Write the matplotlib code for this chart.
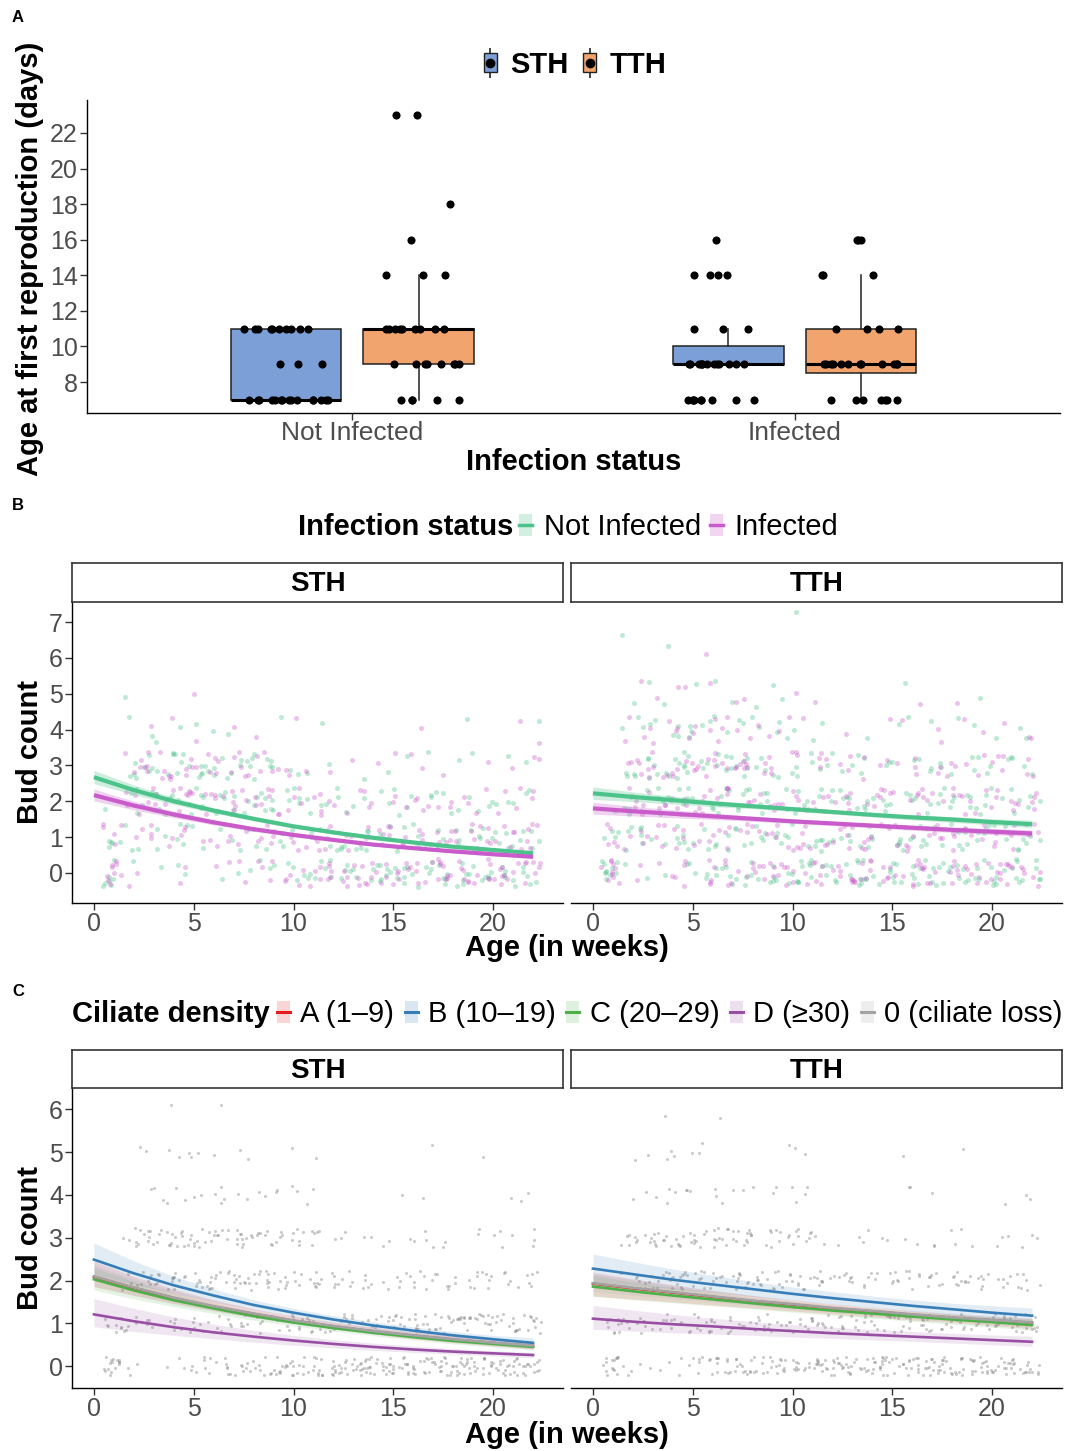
import numpy as np
import matplotlib
matplotlib.use("Agg")
import matplotlib.pyplot as plt
from matplotlib.patches import Patch
from matplotlib.lines import Line2D

plt.rcParams['font.family'] = ['Liberation Sans', 'DejaVu Sans']

# ---------------- panel A data: age at first reproduction (days) ----------------
status_labels = ['Not Infected', 'Infected']
strains = ['STH', 'TTH']
strain_colors = ['#7B9FD6', '#F2A46E']

# raw points per group
ni_sth = [7, 7, 7, 7, 7, 7, 7, 7, 7, 7, 7, 7, 7, 7, 7, 9, 9, 9,
          11, 11, 11, 11, 11, 11, 11, 11, 11, 11]
ni_tth = [7, 7, 7, 7, 7, 9, 9, 9, 9, 9, 9, 9, 9, 11, 11, 11, 11, 11, 11, 11, 11, 11,
          14, 14, 14, 16, 18, 23, 23]
in_sth = [7, 7, 7, 7, 7, 7, 7, 7, 7, 9, 9, 9, 9, 9, 9, 9, 9, 9, 9, 9, 9, 9,
          11, 11, 11, 14, 14, 14, 14, 16]
in_tth = [7, 7, 7, 7, 7, 7, 7, 9, 9, 9, 9, 9, 9, 9, 9, 9, 9, 9, 9,
          11, 11, 11, 11, 14, 14, 14, 16, 16, 16]

# box statistics in order NI-STH, NI-TTH, I-STH, I-TTH
box_q1 = [7, 9, 9, 8.5]
box_med = [7, 11, 9, 9]
box_q3 = [11, 11, 10, 11]
box_lo = [7, 7, 9, 7]
box_hi = [11, 14, 11, 14]

# ---------------- panel B data: bud count by infection status ----------------
fit_weeks = [0, 2, 4, 6, 8, 10, 12, 14, 16, 18, 20, 22]

b_sth_ni = [2.67, 2.31, 2.00, 1.74, 1.51, 1.30, 1.13, 0.98, 0.85, 0.73, 0.64, 0.55]
b_sth_ni_hi = [2.86, 2.45, 2.10, 1.81, 1.57, 1.35, 1.18, 1.03, 0.90, 0.78, 0.69, 0.61]
b_sth_ni_lo = [2.49, 2.18, 1.91, 1.67, 1.45, 1.25, 1.08, 0.93, 0.80, 0.68, 0.59, 0.50]
b_sth_in = [2.17, 1.88, 1.63, 1.41, 1.22, 1.06, 0.92, 0.79, 0.69, 0.60, 0.52, 0.45]
b_sth_in_hi = [2.34, 2.00, 1.72, 1.48, 1.28, 1.11, 0.96, 0.84, 0.73, 0.64, 0.57, 0.50]
b_sth_in_lo = [2.01, 1.76, 1.54, 1.34, 1.16, 1.01, 0.88, 0.75, 0.65, 0.56, 0.48, 0.41]
b_tth_ni = [2.22, 2.12, 2.03, 1.94, 1.86, 1.78, 1.70, 1.62, 1.55, 1.49, 1.42, 1.36]
b_tth_ni_hi = [2.40, 2.26, 2.14, 2.03, 1.93, 1.84, 1.76, 1.69, 1.62, 1.57, 1.51, 1.47]
b_tth_ni_lo = [2.05, 1.99, 1.92, 1.85, 1.79, 1.72, 1.64, 1.56, 1.48, 1.41, 1.34, 1.26]
b_tth_in = [1.80, 1.72, 1.65, 1.58, 1.51, 1.44, 1.38, 1.32, 1.26, 1.20, 1.15, 1.10]
b_tth_in_hi = [1.97, 1.86, 1.76, 1.67, 1.58, 1.50, 1.44, 1.38, 1.33, 1.28, 1.24, 1.20]
b_tth_in_lo = [1.64, 1.59, 1.54, 1.49, 1.44, 1.38, 1.32, 1.26, 1.19, 1.13, 1.07, 1.01]

# observation counts: rows = bud count 0..n, columns = weekly bins starting at week 0.4
bin_start = 0.4
pts_sth_ni = [
    [7, 1, 1, 1, 1, 1, 1, 2, 2, 3, 4, 5, 5, 6, 5, 6, 5, 5, 6, 5, 6, 5],
    [5, 3, 2, 3, 3, 2, 3, 3, 3, 3, 3, 4, 4, 4, 4, 4, 5, 4, 4, 5, 4, 4],
    [1, 3, 5, 5, 5, 5, 5, 5, 5, 5, 3, 3, 2, 2, 3, 2, 3, 3, 2, 3, 2, 2],
    [0, 4, 5, 6, 5, 5, 5, 5, 4, 2, 1, 1, 0, 1, 1, 1, 1, 1, 1, 0, 1, 1],
    [0, 1, 2, 1, 1, 1, 1, 0, 1, 0, 0, 1, 0, 0, 0, 0, 0, 0, 1, 0, 0, 1],
    [0, 1, 0, 0, 0, 0, 0, 0, 0, 0, 0, 0, 0, 0, 0, 0, 0, 0, 0, 0, 0, 0],
]
pts_sth_in = [
    [9, 2, 0, 1, 1, 1, 2, 2, 3, 4, 5, 5, 7, 6, 7, 6, 6, 7, 6, 7, 6, 7],
    [5, 2, 3, 3, 2, 3, 3, 3, 3, 3, 4, 3, 4, 4, 4, 5, 4, 5, 5, 4, 5, 5],
    [0, 4, 4, 5, 5, 5, 5, 5, 5, 4, 4, 2, 2, 3, 2, 3, 3, 2, 3, 2, 3, 2],
    [0, 4, 5, 5, 5, 5, 4, 4, 3, 2, 1, 1, 1, 1, 1, 1, 1, 1, 0, 1, 1, 2],
    [0, 0, 1, 1, 1, 0, 1, 1, 0, 1, 0, 0, 0, 0, 0, 0, 1, 0, 0, 0, 1, 1],
    [0, 0, 0, 0, 1, 0, 0, 0, 0, 0, 0, 0, 0, 0, 0, 0, 0, 0, 0, 0, 0, 0],
]
pts_tth_ni = [
    [10, 1, 1, 1, 3, 4, 5, 5, 5, 6, 6, 6, 6, 6, 6, 6, 6, 6, 6, 6, 6, 5],
    [4, 4, 4, 4, 4, 4, 4, 4, 4, 4, 4, 4, 4, 4, 5, 4, 5, 4, 5, 4, 4, 4],
    [1, 5, 5, 4, 5, 4, 5, 4, 5, 4, 4, 4, 4, 4, 4, 4, 4, 4, 4, 4, 4, 3],
    [0, 4, 5, 5, 5, 5, 5, 5, 4, 3, 3, 2, 3, 2, 3, 2, 3, 2, 3, 2, 3, 2],
    [0, 2, 3, 3, 3, 3, 2, 3, 2, 2, 1, 1, 0, 1, 1, 1, 1, 1, 1, 1, 1, 1],
    [0, 1, 1, 1, 1, 1, 1, 1, 1, 1, 0, 0, 0, 0, 0, 1, 0, 0, 1, 0, 0, 0],
    [0, 0, 0, 1, 0, 0, 0, 0, 0, 0, 0, 0, 0, 0, 0, 0, 0, 0, 0, 0, 0, 0],
    [0, 1, 0, 0, 0, 0, 0, 0, 0, 1, 0, 0, 0, 0, 0, 0, 0, 0, 0, 0, 0, 0],
]
pts_tth_in = [
    [10, 2, 1, 2, 3, 5, 5, 5, 6, 6, 6, 6, 6, 6, 6, 6, 6, 6, 6, 6, 6, 6],
    [5, 3, 4, 4, 4, 4, 4, 4, 4, 4, 4, 4, 4, 5, 4, 5, 4, 5, 4, 5, 4, 4],
    [0, 4, 4, 5, 4, 5, 4, 5, 4, 5, 4, 4, 4, 4, 4, 4, 4, 4, 4, 4, 4, 4],
    [0, 4, 5, 5, 5, 5, 5, 5, 5, 3, 2, 3, 2, 3, 2, 3, 2, 3, 2, 3, 2, 3],
    [0, 2, 3, 3, 3, 3, 3, 2, 2, 1, 1, 0, 1, 0, 1, 1, 1, 1, 1, 1, 1, 2],
    [0, 1, 1, 1, 1, 1, 1, 1, 0, 1, 1, 0, 0, 0, 0, 1, 0, 1, 0, 0, 0, 0],
    [0, 0, 0, 0, 0, 1, 0, 0, 0, 0, 0, 0, 0, 0, 0, 0, 0, 0, 0, 0, 0, 0],
]

# ---------------- panel C data: bud count by ciliate density ----------------
density_labels = ['A (1\u20139)', 'B (10\u201319)', 'C (20\u201329)', 'D (\u226530)', '0 (ciliate loss)']
density_colors = ['#E41A1C', '#377EB8', '#4DAF4A', '#984EA3', '#A3A3A3']

c_sth_fit = {
    'A': [2.09, 1.83, 1.59, 1.39, 1.22, 1.06, 0.93, 0.81, 0.71, 0.62, 0.54, 0.47],
    'B': [2.49, 2.17, 1.89, 1.65, 1.43, 1.25, 1.09, 0.95, 0.83, 0.72, 0.63, 0.545],
    'C': [2.03, 1.77, 1.54, 1.35, 1.17, 1.02, 0.89, 0.78, 0.68, 0.59, 0.52, 0.45],
    'D': [1.21, 1.05, 0.91, 0.79, 0.69, 0.60, 0.52, 0.45, 0.39, 0.34, 0.30, 0.26],
    '0': [2.10, 1.84, 1.60, 1.40, 1.23, 1.07, 0.94, 0.82, 0.72, 0.63, 0.55, 0.48],
}
c_sth_hi = {
    'A': [2.45, 2.10, 1.80, 1.55, 1.34, 1.17, 1.03, 0.91, 0.80, 0.71, 0.63, 0.56],
    'B': [2.88, 2.46, 2.10, 1.80, 1.55, 1.35, 1.18, 1.04, 0.92, 0.81, 0.72, 0.66],
    'C': [2.30, 1.98, 1.70, 1.47, 1.27, 1.10, 0.96, 0.85, 0.75, 0.66, 0.59, 0.53],
    'D': [1.58, 1.35, 1.15, 0.98, 0.84, 0.72, 0.62, 0.54, 0.47, 0.41, 0.36, 0.32],
    '0': [2.36, 2.04, 1.76, 1.52, 1.32, 1.15, 1.01, 0.89, 0.79, 0.70, 0.62, 0.56],
}
c_sth_lo = {
    'A': [1.86, 1.66, 1.47, 1.30, 1.14, 1.00, 0.87, 0.75, 0.64, 0.55, 0.47, 0.40],
    'B': [2.15, 1.91, 1.70, 1.50, 1.32, 1.15, 1.00, 0.86, 0.74, 0.63, 0.54, 0.45],
    'C': [1.78, 1.57, 1.39, 1.23, 1.07, 0.94, 0.82, 0.71, 0.61, 0.52, 0.45, 0.38],
    'D': [0.92, 0.81, 0.72, 0.64, 0.56, 0.49, 0.43, 0.37, 0.32, 0.28, 0.24, 0.20],
    '0': [1.86, 1.65, 1.45, 1.28, 1.13, 0.99, 0.87, 0.75, 0.65, 0.56, 0.48, 0.41],
}
c_tth_fit = {
    'A': [1.93, 1.82, 1.72, 1.62, 1.52, 1.44, 1.35, 1.28, 1.20, 1.13, 1.07, 1.01],
    'B': [2.28, 2.15, 2.02, 1.91, 1.80, 1.69, 1.59, 1.50, 1.41, 1.33, 1.25, 1.18],
    'C': [1.86, 1.75, 1.65, 1.56, 1.47, 1.38, 1.30, 1.23, 1.16, 1.09, 1.03, 0.96],
    'D': [1.11, 1.04, 0.98, 0.93, 0.87, 0.82, 0.77, 0.73, 0.69, 0.65, 0.61, 0.57],
    '0': [1.94, 1.83, 1.73, 1.63, 1.53, 1.45, 1.36, 1.29, 1.21, 1.14, 1.08, 1.02],
}
c_tth_hi = {
    'A': [2.20, 2.04, 1.90, 1.77, 1.65, 1.54, 1.45, 1.37, 1.29, 1.22, 1.16, 1.11],
    'B': [2.62, 2.44, 2.27, 2.12, 1.98, 1.85, 1.74, 1.64, 1.55, 1.47, 1.41, 1.36],
    'C': [2.12, 1.97, 1.84, 1.72, 1.61, 1.51, 1.42, 1.34, 1.27, 1.21, 1.15, 1.10],
    'D': [1.42, 1.31, 1.21, 1.12, 1.04, 0.97, 0.91, 0.86, 0.81, 0.77, 0.73, 0.70],
    '0': [2.16, 2.02, 1.89, 1.77, 1.66, 1.56, 1.46, 1.38, 1.31, 1.24, 1.18, 1.13],
}
c_tth_lo = {
    'A': [1.64, 1.57, 1.50, 1.43, 1.36, 1.29, 1.22, 1.15, 1.08, 1.02, 0.95, 0.88],
    'B': [1.98, 1.89, 1.80, 1.72, 1.63, 1.54, 1.45, 1.37, 1.28, 1.20, 1.11, 1.03],
    'C': [1.63, 1.55, 1.48, 1.41, 1.34, 1.26, 1.19, 1.12, 1.05, 0.98, 0.91, 0.84],
    'D': [0.86, 0.82, 0.78, 0.75, 0.72, 0.68, 0.65, 0.61, 0.58, 0.54, 0.50, 0.46],
    '0': [1.74, 1.66, 1.58, 1.50, 1.42, 1.34, 1.26, 1.19, 1.12, 1.05, 0.98, 0.92],
}

pts_c_sth = [
    [16, 3, 0, 2, 4, 6, 8, 9, 10, 11, 12, 13, 13, 14, 14, 14, 14, 14, 14, 14, 14, 13],
    [8, 5, 4, 5, 5, 5, 5, 6, 6, 6, 7, 7, 7, 8, 8, 9, 10, 10, 10, 10, 10, 10],
    [0, 7, 9, 9, 9, 9, 9, 9, 9, 8, 8, 5, 4, 5, 5, 5, 5, 5, 5, 5, 5, 5],
    [0, 7, 9, 9, 9, 9, 8, 8, 7, 6, 6, 2, 1, 2, 2, 2, 3, 2, 2, 2, 2, 3],
    [0, 0, 2, 3, 3, 3, 2, 2, 3, 2, 2, 0, 0, 0, 0, 1, 1, 0, 0, 0, 1, 2],
    [0, 1, 1, 2, 3, 1, 1, 1, 0, 1, 1, 0, 0, 0, 0, 0, 1, 0, 0, 1, 0, 0],
    [0, 0, 0, 1, 0, 1, 0, 0, 0, 0, 0, 0, 0, 0, 0, 0, 0, 0, 0, 0, 0, 0],
]
pts_c_tth = [
    [15, 4, 2, 2, 6, 9, 10, 10, 11, 12, 12, 13, 13, 13, 13, 13, 13, 13, 13, 13, 13, 12],
    [8, 6, 6, 7, 7, 7, 7, 7, 7, 8, 8, 8, 8, 8, 8, 8, 8, 8, 8, 8, 8, 8],
    [0, 7, 8, 9, 9, 9, 9, 9, 9, 8, 7, 6, 6, 6, 6, 6, 6, 6, 6, 6, 6, 5],
    [0, 7, 8, 8, 8, 8, 8, 8, 7, 6, 5, 2, 1, 2, 2, 2, 2, 2, 2, 1, 2, 3],
    [0, 1, 2, 3, 3, 2, 2, 2, 2, 2, 2, 0, 0, 0, 0, 2, 1, 0, 0, 0, 1, 2],
    [0, 1, 1, 3, 2, 1, 0, 0, 0, 2, 1, 0, 0, 0, 0, 1, 0, 0, 1, 0, 0, 0],
    [0, 0, 0, 1, 0, 1, 0, 0, 0, 0, 0, 0, 0, 0, 0, 0, 0, 0, 0, 0, 0, 0],
]

GREEN = '#4CC38A'
MAGENTA = '#C95BCB'
TICK_C = '#4D4D4D'

W, H = 1067, 1451
fig = plt.figure(figsize=(W / 100, H / 100), dpi=100)


def px_axes(left, top, right, bottom):
    return fig.add_axes([left / W, 1 - bottom / H, (right - left) / W, (bottom - top) / H])


def hash01(k, a):
    # deterministic scatter offset in [0, 1), used only for jittering
    return (np.sin(k * a) * 43758.5453) % 1.0


def spread(counts, height, k0):
    # jitter each observation inside its week / bud-count cell
    xs, ys = [], []
    k = k0
    for level, row in enumerate(counts):
        for col, n in enumerate(row):
            for _ in range(n):
                k += 1
                xs.append(bin_start + col + hash01(k, 12.9898))
                ys.append(level + (2 * hash01(k, 78.233) - 1) * height)
    return xs, ys


def style_axis(ax, left_axis=True):
    for s in ['top', 'right']:
        ax.spines[s].set_visible(False)
    ax.spines['left'].set_visible(left_axis)
    for s in ['left', 'bottom']:
        ax.spines[s].set_linewidth(1.0)
        ax.spines[s].set_color('black')
    ax.tick_params(length=5, width=1, color='#333333', labelcolor=TICK_C, labelsize=18, pad=1.5)
    if not left_axis:
        ax.tick_params(axis='y', left=False, labelleft=False)


def strip(left, top, right, bottom, label):
    sa = px_axes(left, top, right, bottom)
    sa.set_xticks([])
    sa.set_yticks([])
    for s in sa.spines.values():
        s.set_linewidth(1.2)
        s.set_color('#333333')
    sa.text(0.5, 0.45, label, ha='center', va='center', fontsize=20, fontweight='bold',
            transform=sa.transAxes)


# ================= Panel A =================
axA = px_axes(87, 100, 1060, 413)
style_axis(axA)
groups = [ni_sth, ni_tth, in_sth, in_tth]
positions = [0.85, 1.15, 1.85, 2.15]
stats = []
for i in range(4):
    stats.append(dict(q1=box_q1[i], med=box_med[i], q3=box_q3[i],
                      whislo=box_lo[i], whishi=box_hi[i], fliers=[]))
bp = axA.bxp(stats, positions=positions, widths=0.25, patch_artist=True,
             showfliers=False, showcaps=False,
             boxprops=dict(edgecolor='#222222', linewidth=1.1),
             whiskerprops=dict(color='#222222', linewidth=1.1),
             medianprops=dict(color='black', linewidth=2.2))
for i, box in enumerate(bp['boxes']):
    box.set_facecolor(strain_colors[i % 2])
k = 0
for pos, vals in zip(positions, groups):
    xs = []
    for v in vals:
        k += 1
        xs.append(pos + (hash01(k, 12.9898) - 0.5) * 0.19)
    axA.scatter(xs, vals, s=34, color='black', zorder=5, linewidths=0)
axA.set_xlim(0.4, 2.6)
axA.set_ylim(6.26, 23.85)
axA.set_yticks([8, 10, 12, 14, 16, 18, 20, 22])
axA.set_xticks([1, 2])
axA.set_xticklabels(status_labels)
axA.tick_params(axis='x', labelsize=19, pad=1)

fig.text(30 / W, 1 - 259 / H, 'Age at first reproduction (days)', rotation=90,
         ha='center', va='center', fontsize=21, fontweight='bold')
fig.text(574 / W, 1 - 462 / H, 'Infection status', ha='center', va='center',
         fontsize=21, fontweight='bold')

legA_handles = []
for c in strain_colors:
    legA_handles.append((Line2D([], [], marker='|', markersize=21, mew=1.2, color='#222222',
                                linestyle='None'),
                         Patch(facecolor=c, edgecolor='#222222', linewidth=1.0),
                         Line2D([], [], marker='o', markersize=6, color='black', linestyle='None')))
fig.legend(legA_handles, strains, loc='center', bbox_to_anchor=(575 / W, 1 - 65 / H),
           ncol=2, frameon=False, handlelength=0.45, handleheight=0.6, numpoints=1,
           handletextpad=0.45, columnspacing=0.5, borderpad=0,
           prop=dict(size=21, weight='bold'))

# ================= Panel B =================
panelsB = [
    ('STH', 72, 563, pts_sth_ni, pts_sth_in, (b_sth_ni, b_sth_ni_lo, b_sth_ni_hi),
     (b_sth_in, b_sth_in_lo, b_sth_in_hi)),
    ('TTH', 571, 1062, pts_tth_ni, pts_tth_in, (b_tth_ni, b_tth_ni_lo, b_tth_ni_hi),
     (b_tth_in, b_tth_in_lo, b_tth_in_hi)),
]
for j, (name, l, r, p_ni, p_in, f_ni, f_in) in enumerate(panelsB):
    ax = px_axes(l, 602, r, 903)
    style_axis(ax, left_axis=(j == 0))
    strip(l, 563, r, 602, name)
    x1, y1 = spread(p_ni, 0.38, 1000 * j + 1)
    x2, y2 = spread(p_in, 0.38, 1000 * j + 5001)
    ax.scatter(x1, y1, s=13, color=GREEN, alpha=0.36, linewidths=0)
    ax.scatter(x2, y2, s=13, color=MAGENTA, alpha=0.36, linewidths=0)
    for (fit, lo, hi), col in [(f_ni, GREEN), (f_in, MAGENTA)]:
        ax.fill_between(fit_weeks, lo, hi, color=col, alpha=0.28, linewidth=0)
        ax.plot(fit_weeks, fit, color=col, lw=3.0, solid_capstyle='butt')
    ax.set_xlim(-1.1, 23.5)
    ax.set_ylim(-0.84, 7.56)
    ax.set_xticks([0, 5, 10, 15, 20])
    ax.set_yticks(range(0, 8))

fig.text(30 / W, 1 - 752 / H, 'Bud count', rotation=90, ha='center', va='center',
         fontsize=21, fontweight='bold')
fig.text(567 / W, 1 - 948 / H, 'Age (in weeks)', ha='center', va='center',
         fontsize=21, fontweight='bold')

fig.text(513 / W, 1 - 527 / H, 'Infection status', ha='right', va='center',
         fontsize=21, fontweight='bold')
legB_handles = [(Patch(facecolor=c, alpha=0.25, linewidth=0), Line2D([], [], color=c, lw=2.5))
                for c in [GREEN, MAGENTA]]
fig.legend(legB_handles, status_labels, loc='center left', bbox_to_anchor=(519 / W, 1 - 527 / H),
           ncol=2, frameon=False, handlelength=0.45, handleheight=0.75, handletextpad=0.4,
           columnspacing=0.3, borderpad=0, borderaxespad=0, prop=dict(size=21))

# ================= Panel C =================
keys = ['A', 'B', 'C', 'D', '0']
panelsC = [('STH', 72, 563, pts_c_sth, c_sth_fit, c_sth_lo, c_sth_hi),
           ('TTH', 571, 1062, pts_c_tth, c_tth_fit, c_tth_lo, c_tth_hi)]
draw_order = ['A', 'C', '0', 'B', 'D']
for j, (name, l, r, pts, fit, lo, hi) in enumerate(panelsC):
    ax = px_axes(l, 1088, r, 1388)
    style_axis(ax, left_axis=(j == 0))
    strip(l, 1050, r, 1088, name)
    xs, ys = spread(pts, 0.22, 3000 * j + 9001)
    ax.scatter(xs, ys, s=5, color='#8C8C8C', alpha=0.45, linewidths=0)
    for key in draw_order:
        col = density_colors[keys.index(key)]
        ax.fill_between(fit_weeks, lo[key], hi[key], color=col, alpha=0.14, linewidth=0)
    for key in draw_order:
        col = density_colors[keys.index(key)]
        ax.plot(fit_weeks, fit[key], color=col, lw=1.9)
    ax.set_xlim(-1.1, 23.5)
    ax.set_ylim(-0.51, 6.50)
    ax.set_xticks([0, 5, 10, 15, 20])
    ax.set_yticks(range(0, 7))

fig.text(30 / W, 1 - 1238 / H, 'Bud count', rotation=90, ha='center', va='center',
         fontsize=21, fontweight='bold')
fig.text(567 / W, 1 - 1435 / H, 'Age (in weeks)', ha='center', va='center',
         fontsize=21, fontweight='bold')

fig.text(270 / W, 1 - 1014 / H, 'Ciliate density', ha='right', va='center',
         fontsize=21, fontweight='bold')
legC_handles = [(Patch(facecolor=c, alpha=0.18, linewidth=0), Line2D([], [], color=c, lw=2.2))
                for c in density_colors]
fig.legend(legC_handles, density_labels, loc='center left', bbox_to_anchor=(277 / W, 1 - 1014 / H),
           ncol=5, frameon=False, handlelength=0.45, handleheight=0.75, handletextpad=0.35,
           columnspacing=0.36, borderpad=0, borderaxespad=0, prop=dict(size=21))

# panel tags
for tag, y in [('A', 18), ('B', 505), ('C', 992)]:
    fig.text(18 / W, 1 - y / H, tag, ha='center', va='center', fontsize=12, fontweight='bold')

fig.savefig('out.png', dpi=100)
